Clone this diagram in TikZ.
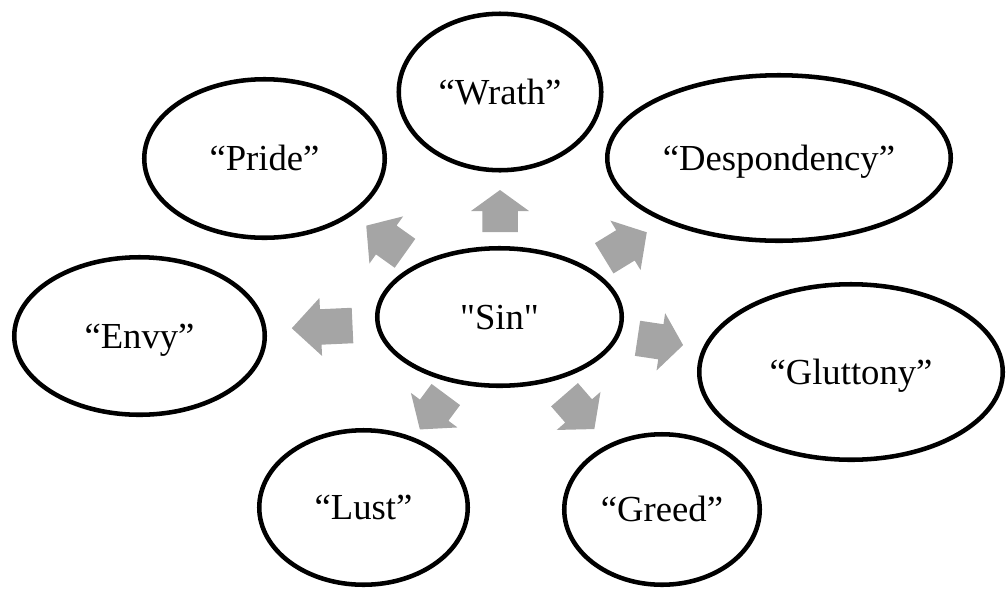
\documentclass[tikz,border=0pt]{standalone}
\usepackage{fontspec}
\setmainfont{Liberation Serif}[Ligatures=TeXOff]
\usetikzlibrary{shapes.geometric}
\definecolor{arrowgray}{RGB}{165,165,165}
% #1 tail point, #2 direction angle, #3 total length, #4 head length
\newcommand\blockarr[4]{%
  \fill[arrowgray,shift={(#1)},rotate=#2]
    (0,-17.75) -- ({#3-#4},-17.75) -- ({#3-#4},-29) -- (#3,0)
    -- ({#3-#4},29) -- ({#3-#4},17.75) -- (0,17.75) -- cycle;}
\begin{document}
\begin{tikzpicture}[x=0.75pt,y=-0.75pt,
  sinell/.style 2 args={ellipse,draw,line width=3.4pt,fill=white,inner sep=0pt,
    minimum width=#1*0.75pt,minimum height=#2*0.75pt,
    font=\fontsize{27.5}{33}\selectfont,text height=20pt,text depth=2pt}]
\useasboundingbox (0,0) rectangle (1006,590);
\node[sinell={244.5}{137.5}] (sin)   at (499.5,317)   {"Sin"};
\node[sinell={202.5}{156.5}] (wrath) at (500,92)      {“Wrath”};
\node[sinell={240.5}{158.5}] (pride) at (264.5,158.5) {“Pride”};
\node[sinell={343.5}{165.5}] (desp)  at (779,158)     {“Despondency”};
\node[sinell={250.5}{157.5}] (envy)  at (139.5,336)   {“Envy”};
\node[sinell={303.5}{175.5}] (glut)  at (851,372)     {“Gluttony”};
\node[sinell={208.5}{154.5}] (lust)  at (363.5,507.5) {“Lust”};
\node[sinell={195.5}{150.5}] (greed) at (662,509.5)   {“Greed”};
\blockarr{500,232}{90}{42}{21}
\blockarr{405,253.3}{144.5}{47.6}{24.6}
\blockarr{352.5,325.5}{182.6}{60.8}{29}
\blockarr{637.5,338.3}{-8.5}{46.1}{22.5}
\blockarr{604.2,258.3}{31.4}{49.9}{25}
\blockarr{445.8,394.5}{233.4}{43.5}{24}
\blockarr{564.5,394.7}{-49}{45.5}{24}
\end{tikzpicture}
\end{document}
